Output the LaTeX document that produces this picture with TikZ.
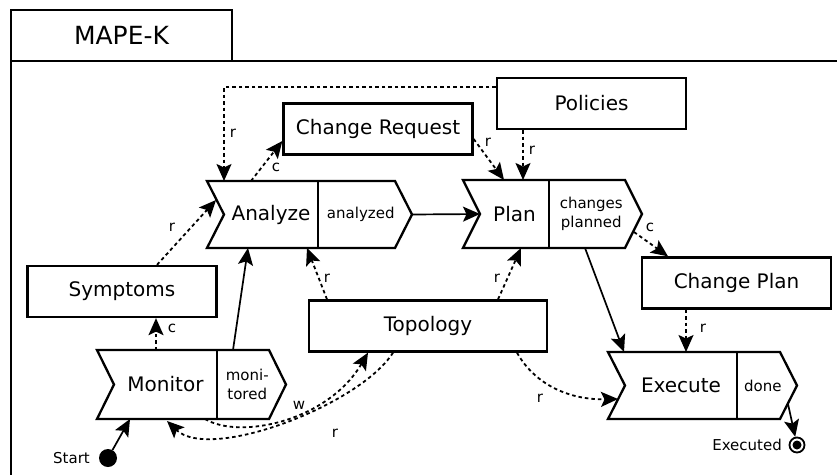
\documentclass[tikz,border=0pt]{standalone}
\usepackage{fontspec}
\setmainfont{DejaVu Sans}
\usetikzlibrary{arrows.meta,calc}

% Chevron-shaped activity: name, left x, divider x, right x (top corner), top y, bottom y, activity, state
\newcommand\chevron[8]{%
  \pgfmathsetmacro\chmid{(#5+#6)/2}
  \draw[chevline] (#2,#5) -- (#4,#5) -- (#4+17,\chmid) -- (#4,#6) -- (#2,#6) -- (#2+17,\chmid) -- cycle;
  \draw[line width=1.4pt] (#3,#5) -- (#3,#6);
  \node[bigtext] (#1) at ({(#2+17+#3)/2},\chmid) {#7};
  \node[smalltext] (#1-state) at ({(#3+#4+8.5)/2},\chmid) {#8};
}

\begin{document}
\begin{tikzpicture}[x=1pt,y=-1pt,
  chevline/.style={line width=2.3pt, line join=miter},
  databox/.style={draw, line width=2.3pt, minimum height=51pt, minimum width=189pt,
    inner sep=0pt, font=\fontsize{20}{24}\selectfont},
  bigtext/.style={font=\fontsize{20}{24}\selectfont, inner sep=0pt},
  smalltext/.style={font=\fontsize{15}{18.5}\selectfont, inner sep=0pt, align=center},
  lbl/.style={font=\fontsize{15}{18}\selectfont, inner sep=0pt},
  arrowhd/.style={-{Stealth[length=17pt,width=15pt,inset=3.5pt]}},
  flow/.style={arrowhd, line width=1.7pt},
  dep/.style={arrowhd, line width=1.8pt, dash pattern=on 3.5pt off 3pt},
]
\useasboundingbox (0,0) rectangle (837,474);

% frame with title tab
\draw[chevline] (840,61) -- (11,61) -- (11,478);
\node[draw, line width=2.3pt, minimum width=221pt, minimum height=51pt, inner sep=0pt,
  font=\fontsize{25}{30}\selectfont] (tab) at (121.5,35.5) {MAPE-K};

% activities
\chevron{an}{207}{318}{395}{181}{248}{Analyze}{analyzed}
\chevron{pl}{463}{549}{625}{180}{248}{Plan}{changes\\planned}
\chevron{mo}{97}{217}{269}{350}{419}{Monitor}{moni-\\tored}
\chevron{ex}{608}{737}{780}{352}{419}{Execute}{done}

% knowledge
\node[databox] (pol) at (591.5,103.5) {Policies};
\node[databox] (cr) at (378,129) {Change Request};
\node[databox] (sy) at (122,291.5) {Symptoms};
\node[databox, minimum width=238pt] (to) at (428,326) {Topology};
\node[databox] (cp) at (736.5,283) {Change Plan};

% start and end
\node[circle, fill, minimum size=18pt, inner sep=0pt] (start) at (108,458) {};
\node[lbl, anchor=east] (start-l) at (90,458) {Start};
\node[circle, draw, line width=1.8pt, minimum size=15pt, inner sep=0pt] (done) at (797,445) {};
\node[circle, fill, minimum size=9pt, inner sep=0pt] (done-dot) at (done) {};
\node[lbl, anchor=east] (done-l) at (782,445) {Executed};

% connector ends on the activity outlines
\coordinate (an-t1) at (224,181);
\coordinate (an-t2) at (251,181);
\coordinate (an-l) at (216,200);
\coordinate (an-b1) at (248,248);
\coordinate (an-b2) at (307,248);
\coordinate (an-out) at (412,214.5);
\coordinate (pl-in) at (480,214);
\coordinate (pl-t1) at (504,180);
\coordinate (pl-t2) at (523,180);
\coordinate (pl-b1) at (521,248);
\coordinate (pl-b2) at (585,248);
\coordinate (pl-r) at (634,232);
\coordinate (mo-t1) at (156,350);
\coordinate (mo-t2) at (233,350);
\coordinate (mo-b1) at (205,419);
\coordinate (mo-b2) at (167,421);
\coordinate (mo-b3) at (130,419);
\coordinate (ex-t1) at (624,352);
\coordinate (ex-t2) at (686,352);
\coordinate (ex-l) at (618,399);
\coordinate (ex-r) at (788,404);

% control flow
\draw[flow] (start) -- (mo-b3);
\draw[flow] (mo-t2) -- (an-b1);
\draw[flow] (an-out) -- (pl-in);
\draw[flow] (pl-b2) -- (ex-t1);
\draw[flow] (ex-r) -- (done);

% knowledge access
\draw[dep] ([yshift=16.5pt]pol.west) -| (an-t1);
\node[lbl] at (233,133) {r};
\draw[dep] (an-t2) -- ([yshift=-12pt]cr.west);
\node[lbl] at (276,167) {c};
\draw[dep] ([yshift=-10pt]cr.east) -- (pl-t1);
\node[lbl] at (488,142) {r};
\draw[dep] (pol.south -| pl-t2) -- (pl-t2);
\node[lbl] at (532,150) {r};
\draw[dep] ([xshift=35pt]sy.north) -- (an-l);
\node[lbl] at (172,227) {r};
\draw[dep] (mo-t1) -- (mo-t1 |- sy.south);
\node[lbl] at (172,328) {c};
\draw[dep] ([xshift=-101pt]to.north) -- (an-b2);
\node[lbl] at (327,278) {r};
\draw[dep] ([xshift=70pt]to.north) -- (pl-b1);
\node[lbl] at (497,278) {r};
\draw[dep] (pl-r) -- ([xshift=-68.5pt]cp.north);
\node[lbl] at (650,227) {c};
\draw[dep] (cp.south -| ex-t2) -- (ex-t2);
\node[lbl] at (703,328) {r};
\draw[dep] ([xshift=89pt]to.south) .. controls (535,385) and (570,400) .. (ex-l);
\node[lbl] at (540,398) {r};
\draw[dep] (mo-b1) .. controls (240,440) and (328,421) .. ([xshift=-60pt]to.south);
\node[lbl] at (299,405) {w};
\draw[dep] ([xshift=-35pt]to.south) .. controls (360,405) and (210,462) .. (mo-b2);
\node[lbl] at (335,433) {r};
\end{tikzpicture}
\end{document}
